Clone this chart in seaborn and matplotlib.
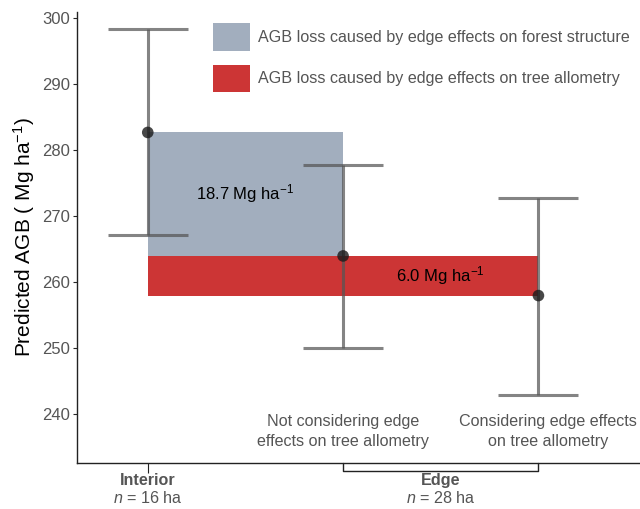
import numpy as np
import pandas as pd
import matplotlib.pyplot as plt
import seaborn as sns
from matplotlib.patches import Patch
from matplotlib import transforms

# Data
groups = ['Interior', 'Edge (no allometry)', 'Edge (allometry)']
xpos = [0, 1, 2]
agb = [282.7, 264.0, 258.0]
ci_low = [267.1, 250.1, 243.0]
ci_high = [298.3, 277.8, 272.7]
loss_structure = 18.7
loss_allometry = 6.0

df = pd.DataFrame({'x': xpos, 'agb': agb, 'lo': ci_low, 'hi': ci_high})

sns.set_theme(style='ticks')
plt.rcParams['font.family'] = ['Liberation Sans', 'DejaVu Sans']
plt.rcParams['mathtext.fontset'] = 'custom'
plt.rcParams['mathtext.rm'] = 'Liberation Sans'
plt.rcParams['mathtext.it'] = 'Liberation Sans:italic'
plt.rcParams['mathtext.bf'] = 'Liberation Sans:bold'

fig = plt.figure(figsize=(6.4, 5.09), dpi=100)
ax = fig.add_axes([0.121, 0.091, 0.879, 0.885])

blue = '#a2aebe'
red = '#cc3535'
gray_txt = '#555555'

# loss rectangles
ax.bar(xpos[0], loss_structure, bottom=agb[1], width=xpos[1] - xpos[0], align='edge',
       color=blue, linewidth=0, zorder=1)
ax.bar(xpos[0], loss_allometry, bottom=agb[2], width=xpos[2] - xpos[0], align='edge',
       color=red, linewidth=0, zorder=1.1)

# error bars
yerr = np.array([df['agb'] - df['lo'], df['hi'] - df['agb']])
ax.errorbar(df['x'], df['agb'], yerr=yerr, fmt='none', ecolor='#555555', alpha=0.72,
            elinewidth=2.2, capsize=29, capthick=2.2, zorder=2)
sns.scatterplot(data=df, x='x', y='agb', ax=ax, color='#1a1a1a', s=70, alpha=0.8,
                edgecolor='none', zorder=3, legend=False)

ax.text(0.5, 273.5, '18.7 Mg ha$^{-1}$', ha='center', va='center', fontsize=12, color='black')
ax.text(1.5, 261.0, '6.0 Mg ha$^{-1}$', ha='center', va='center', fontsize=12, color='black')

ax.set_xlim(-0.36, 2.52)
ax.set_ylim(232.7, 300.9)
ax.set_yticks([240, 250, 260, 270, 280, 290, 300])
ax.set_xticks([0])
ax.set_xticklabels([''])
ax.tick_params(axis='y', labelsize=12, labelcolor=gray_txt, length=3, width=0.8, pad=2)
ax.tick_params(axis='x', length=7, width=0.8, color='#222222')
ax.set_xlabel('')
ax.set_ylabel('Predicted AGB ( Mg ha$^{-1}$)', fontsize=15, color='black', labelpad=4)
sns.despine(ax=ax)
for s in ['left', 'bottom']:
    ax.spines[s].set_linewidth(1.0)
    ax.spines[s].set_color('#222222')

# labels inside plot for edge groups
ax.text(1, 237.4, 'Not considering edge\neffects on tree allometry', ha='center', va='center',
        fontsize=11.6, color=gray_txt, linespacing=1.4)
ax.text(2.05, 237.4, 'Considering edge effects\non tree allometry', ha='center', va='center',
        fontsize=11.6, color=gray_txt, linespacing=1.4)

# group labels below the axis
trans = transforms.blended_transform_factory(ax.transData, ax.transAxes)
ax.plot([1, 1, 2, 2], [0, -0.018, -0.018, 0], transform=trans, color='#222222',
        linewidth=1.0, clip_on=False)
ax.text(0, -0.04, 'Interior', transform=trans, ha='center', va='center',
        fontsize=11.6, fontweight='bold', color=gray_txt)
ax.text(0, -0.078, '$n$ = 16 ha', transform=trans, ha='center', va='center',
        fontsize=11.6, color=gray_txt)
ax.text(1.5, -0.04, 'Edge', transform=trans, ha='center', va='center',
        fontsize=11.6, fontweight='bold', color=gray_txt)
ax.text(1.5, -0.078, '$n$ = 28 ha', transform=trans, ha='center', va='center',
        fontsize=11.6, color=gray_txt)

handles = [Patch(facecolor=blue, edgecolor='none'), Patch(facecolor=red, edgecolor='none')]
leg = ax.legend(handles, ['AGB loss caused by edge effects on forest structure',
                          'AGB loss caused by edge effects on tree allometry'],
                loc='upper left', bbox_to_anchor=(0.241, 0.975), frameon=False,
                fontsize=11.6, handlelength=2.3, handleheight=2.25, handletextpad=0.5,
                labelspacing=0.85, borderaxespad=0, borderpad=0)
for t in leg.get_texts():
    t.set_color(gray_txt)

fig.savefig('out.png', dpi=100)
